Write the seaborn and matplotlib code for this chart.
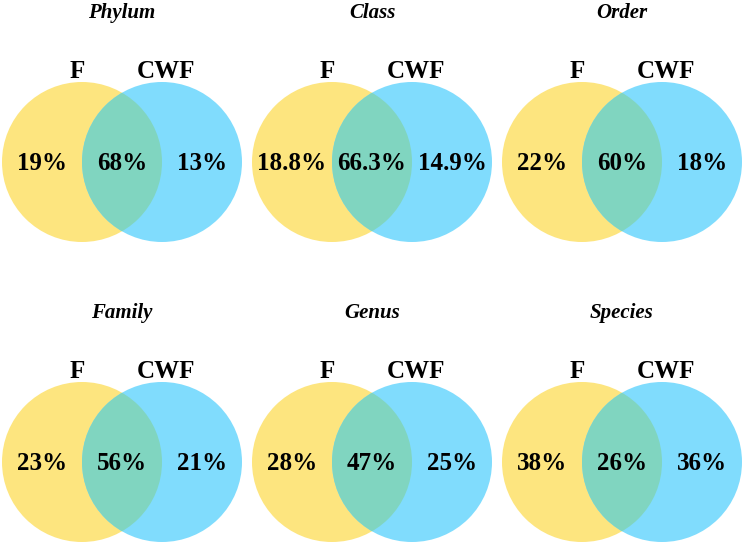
import numpy as np
import matplotlib
matplotlib.use("Agg")
import matplotlib.pyplot as plt
from matplotlib.patches import Circle
import seaborn as sns

# data: share of taxa unique to F, shared, unique to CWF
ranks = ['Phylum', 'Class', 'Order', 'Family', 'Genus', 'Species']
f_only = ['19%', '18.8%', '22%', '23%', '28%', '38%']
shared = ['68%', '66.3%', '60%', '56%', '47%', '26%']
cwf_only = ['13%', '14.9%', '18%', '21%', '25%', '36%']
set_names = ['F', 'CWF']

sns.set_theme(style="white")
plt.rcParams['font.family'] = ['Liberation Serif', 'DejaVu Serif']
plt.rcParams['text.color'] = 'black'

yellow = '#FDE57F'
blue = '#80DCFD'
overlap = '#80D5C0'

fig = plt.figure(figsize=(7.43, 5.42), dpi=100)
ax = fig.add_axes([0, 0, 1, 1])
ax.set_xlim(0, 743)
ax.set_ylim(542, 0)
ax.axis('off')

r = 80
for i, rank in enumerate(ranks):
    row, col = divmod(i, 3)
    cx = 122 + 250 * col
    cy = 162 + 300 * row

    left = Circle((cx - 40, cy), r, facecolor=yellow, edgecolor='none')
    right = Circle((cx + 40, cy), r, facecolor=blue, edgecolor='none')
    ax.add_patch(left)
    ax.add_patch(right)
    mid = Circle((cx + 40, cy), r, facecolor=overlap, edgecolor='none')
    ax.add_patch(mid)
    mid.set_clip_path(left)

    ax.text(cx, cy - 149, rank, ha='center', va='center', fontsize=15,
            fontweight='bold', fontstyle='italic')
    ax.text(cx - 45, cy - 90, set_names[0], ha='center', va='center',
            fontsize=18, fontweight='bold')
    ax.text(cx + 44, cy - 90, set_names[1], ha='center', va='center',
            fontsize=18, fontweight='bold')

    ax.text(cx - 80, cy + 1, f_only[i], ha='center', va='center', fontsize=18, fontweight='bold')
    ax.text(cx, cy + 1, shared[i], ha='center', va='center', fontsize=18, fontweight='bold')
    ax.text(cx + 80, cy + 1, cwf_only[i], ha='center', va='center', fontsize=18, fontweight='bold')

fig.savefig('out.png', dpi=100)
